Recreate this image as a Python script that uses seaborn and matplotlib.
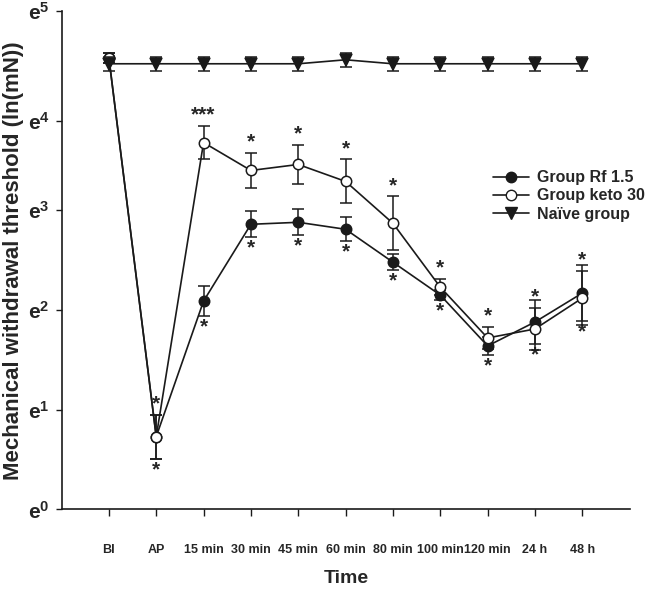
import matplotlib
matplotlib.use("Agg")
import matplotlib.pyplot as plt
from matplotlib.lines import Line2D
import seaborn as sns
import pandas as pd
import numpy as np

# ---- data (values are the exponent on the ln scale) ----
time_labels = ["BI", "AP", "15 min", "30 min", "45 min", "60 min", "80 min",
               "100 min", "120 min", "24 h", "48 h"]
rf_mean = [4.53, 0.73, 2.09, 2.86, 2.88, 2.81, 2.48, 2.15, 1.64, 1.88, 2.17]
rf_err = [0.05, 0.22, 0.15, 0.13, 0.13, 0.12, 0.08, 0.05, 0.09, 0.22, 0.28]
keto_mean = [4.53, 0.73, 3.68, 3.40, 3.46, 3.29, 2.87, 2.23, 1.72, 1.81, 2.12]
keto_err = [0.05, 0.22, 0.17, 0.18, 0.20, 0.22, 0.27, 0.08, 0.11, 0.21, 0.27]
naive_mean = [4.47, 4.47, 4.47, 4.47, 4.47, 4.51, 4.47, 4.47, 4.47, 4.47, 4.47]
naive_err = [0.07] * 11
keto_stars = ["", "*", "***", "*", "*", "*", "*", "*", "*", "*", "*"]
rf_stars = ["", "*", "*", "*", "*", "*", "*", "*", "*", "*", "*"]
group_names = ["Group Rf 1.5", "Group keto 30", "Naïve group"]
ytick_pos = [0, 1, 2, 3, 3.9, 5]
ytick_exp = [0, 1, 2, 3, 4, 5]

sns.set_style("ticks")
plt.rcParams["font.family"] = ["Liberation Sans", "DejaVu Sans"]
plt.rcParams["mathtext.fontset"] = "custom"
plt.rcParams["mathtext.rm"] = "Liberation Sans"
plt.rcParams["mathtext.bf"] = "Liberation Sans:bold"

x = np.arange(len(time_labels))
df = pd.DataFrame({
    "x": np.concatenate([x, x, x]),
    "value": np.concatenate([rf_mean, keto_mean, naive_mean]),
    "group": np.repeat(group_names, len(x)),
})

fig = plt.figure(figsize=(6.5, 5.91), dpi=100)
ax = fig.add_axes([0.0954, 0.138, 0.874, 0.8435])

lc = "#1a1a1a"
styles = {
    group_names[0]: dict(marker="o", mfc=lc, ms=7.5),
    group_names[1]: dict(marker="o", mfc="white", ms=7.5),
    group_names[2]: dict(marker="v", mfc=lc, ms=8),
}
errs = [rf_err, keto_err, naive_err]
means = [rf_mean, keto_mean, naive_mean]
for i, g in enumerate(group_names):
    sub = df[df["group"] == g]
    ax.errorbar(x, means[i], yerr=errs[i], fmt="none", ecolor=lc,
                elinewidth=1.1, capsize=4, capthick=1.1, zorder=2 + i * 2)
    sns.lineplot(data=sub, x="x", y="value", ax=ax, color=lc, lw=1.2,
                 marker=styles[g]["marker"], markersize=styles[g]["ms"],
                 markerfacecolor=styles[g]["mfc"], markeredgecolor=lc,
                 markeredgewidth=1.1, zorder=3 + i * 2, legend=False)

# significance stars
for i in range(len(x)):
    if keto_stars[i]:
        ax.annotate(keto_stars[i], (x[i], keto_mean[i] + keto_err[i]),
                    xytext=(0, 1), textcoords="offset points",
                    ha="center", va="bottom", fontsize=15, fontweight="bold")
    if rf_stars[i]:
        ax.annotate(rf_stars[i], (x[i], rf_mean[i] - rf_err[i]),
                    xytext=(0, -1), textcoords="offset points",
                    ha="center", va="top", fontsize=15, fontweight="bold")

ax.set_xlim(-0.99, 11.01)
ax.set_ylim(0, 5)
ax.set_xticks(x)
ax.set_xticklabels(time_labels, fontsize=9, fontweight="bold")
ax.set_yticks(ytick_pos)
ax.set_yticklabels([r"$\mathbf{e^{%d}}$" % e for e in ytick_exp], fontsize=15)
ax.tick_params(axis="x", length=5, width=1, pad=20, color=lc)
ax.tick_params(axis="y", length=4, width=1, pad=5, color=lc)
for s in ["left", "bottom"]:
    ax.spines[s].set_linewidth(1.2)
    ax.spines[s].set_color(lc)
sns.despine(ax=ax)

ax.set_xlabel("Time", fontsize=14, fontweight="bold", labelpad=10)
ax.set_ylabel("Mechanical withdrawal threshold (ln(mN))", fontsize=16,
              fontweight="bold")
ax.yaxis.set_label_coords(-0.067, 0.5)

handles = [Line2D([], [], color=lc, lw=1.2, marker=styles[g]["marker"],
                  markersize=styles[g]["ms"], markerfacecolor=styles[g]["mfc"],
                  markeredgecolor=lc) for g in group_names]
fig.legend(handles, group_names, loc="upper left",
           bbox_to_anchor=(0.758, 0.712), frameon=False,
           prop={"weight": "bold", "size": 11.5}, handlelength=2.3,
           handletextpad=0.5, labelspacing=0.2, borderpad=0, borderaxespad=0)

fig.savefig("out.png", dpi=100)
